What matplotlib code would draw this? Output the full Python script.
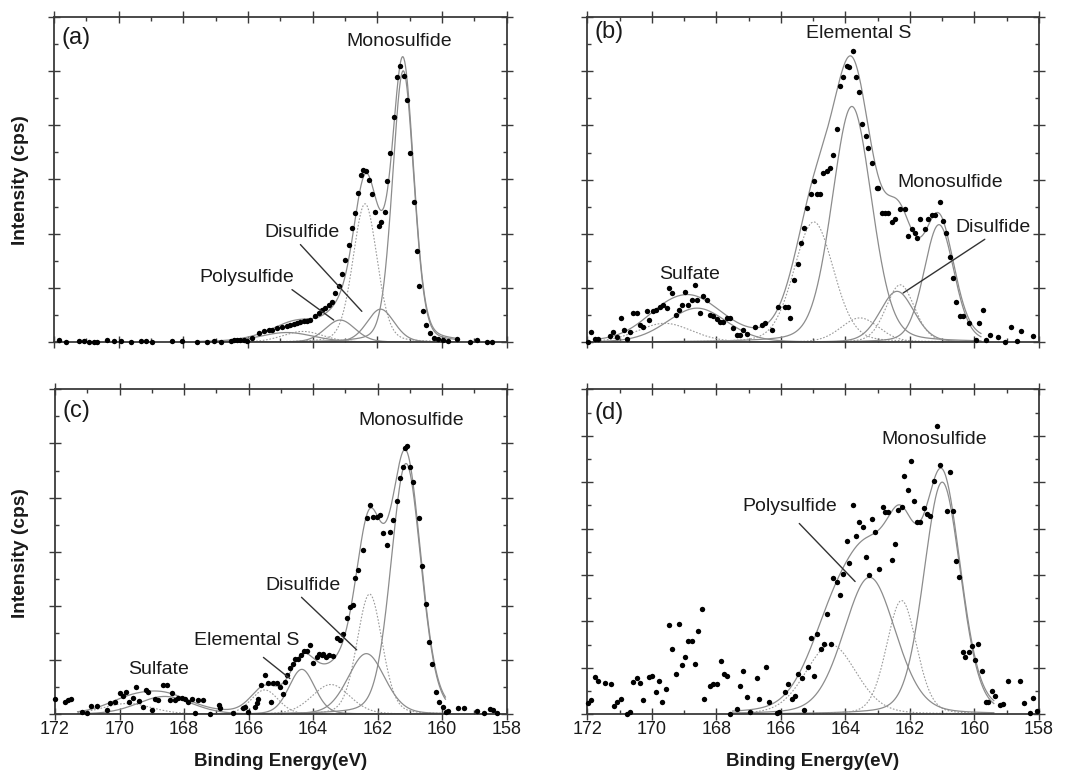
import numpy as np
import matplotlib
matplotlib.use("Agg")
import matplotlib.pyplot as plt
from matplotlib.ticker import MultipleLocator

plt.rcParams['font.family'] = ['Liberation Sans', 'DejaVu Sans']

# ---------------- data (binding energy in eV, intensity in arbitrary units) ----
a_be = [171.85, 171.64, 171.23, 171.07, 170.92, 170.76, 170.66, 170.35, 170.15, 169.94,
        169.63, 169.32, 169.17, 168.96, 168.35, 168.04, 167.57, 167.26, 167.06, 166.85,
        166.54, 166.44, 166.34, 166.24, 166.13, 166.03, 165.87, 165.67, 165.51, 165.36,
        165.26, 165.10, 164.95, 164.79, 164.69, 164.59, 164.49, 164.38, 164.28, 164.18,
        164.07, 163.92, 163.82, 163.71, 163.61, 163.51, 163.40, 163.30, 163.20, 163.10,
        162.99, 162.89, 162.79, 162.70, 162.61, 162.51, 162.43, 162.34, 162.27, 162.17,
        162.07, 161.96, 161.88, 161.76, 161.69, 161.60, 161.48, 161.40, 161.29, 161.19,
        161.09, 160.99, 160.88, 160.78, 160.70, 160.59, 160.49, 160.37, 160.26, 160.11,
        159.96, 159.80, 159.54, 159.13, 158.93, 158.62, 158.46]
a_int = [0.04, 0.01, 0.02, 0.02, 0.01, 0.01, 0.01, 0.04, 0.02, 0.03,
         0.01, 0.03, 0.02, 0.01, 0.02, 0.03, 0.01, 0.01, 0.02, 0.01,
         0.02, 0.05, 0.04, 0.05, 0.04, 0.03, 0.07, 0.17, 0.20, 0.23,
         0.22, 0.26, 0.29, 0.30, 0.32, 0.34, 0.35, 0.38, 0.40, 0.40,
         0.41, 0.49, 0.54, 0.60, 0.63, 0.69, 0.75, 0.91, 1.03, 1.25,
         1.52, 1.80, 2.11, 2.38, 2.75, 3.09, 3.18, 3.16, 2.98, 2.73,
         2.40, 2.15, 2.22, 2.40, 2.97, 3.48, 4.15, 4.89, 5.09, 4.91,
         4.46, 3.49, 2.59, 1.69, 1.03, 0.57, 0.32, 0.17, 0.07, 0.06,
         0.04, 0.03, 0.06, 0.01, 0.04, 0.01, 0.01]

b_be = [171.97, 171.87, 171.76, 171.66, 171.30, 171.19, 171.07, 170.97, 170.86, 170.78,
        170.68, 170.57, 170.47, 170.37, 170.26, 170.16, 170.08, 169.95, 169.87, 169.75,
        169.64, 169.54, 169.46, 169.36, 169.25, 169.15, 169.08, 168.97, 168.87, 168.77,
        168.66, 168.61, 168.51, 168.40, 168.30, 168.20, 168.10, 167.99, 167.89, 167.79,
        167.68, 167.58, 167.48, 167.37, 167.27, 167.17, 167.06, 166.80, 166.60, 166.49,
        166.29, 166.08, 165.87, 165.77, 165.72, 165.58, 165.46, 165.38, 165.29, 165.18,
        165.07, 164.98, 164.87, 164.79, 164.69, 164.58, 164.48, 164.38, 164.27, 164.17,
        164.07, 163.96, 163.88, 163.78, 163.67, 163.58, 163.48, 163.37, 163.29, 163.19,
        163.03, 162.98, 162.88, 162.77, 162.67, 162.57, 162.46, 162.31, 162.16, 162.05,
        161.95, 161.85, 161.79, 161.69, 161.54, 161.43, 161.33, 161.23, 161.07, 160.99,
        160.88, 160.76, 160.66, 160.57, 160.45, 160.35, 160.16, 159.95, 159.85, 159.75,
        159.64, 159.52, 159.26, 159.06, 158.88, 158.67, 158.57, 158.18]
b_int = [0.01, 0.19, 0.06, 0.06, 0.12, 0.19, 0.09, 0.44, 0.23, 0.06,
         0.19, 0.54, 0.54, 0.32, 0.29, 0.57, 0.41, 0.57, 0.60, 0.66,
         0.69, 0.63, 1.00, 0.91, 0.51, 0.60, 0.69, 0.92, 0.69, 0.78,
         1.06, 0.78, 0.54, 0.85, 0.78, 0.51, 0.48, 0.43, 0.38, 0.38,
         0.44, 0.44, 0.26, 0.14, 0.14, 0.23, 0.15, 0.28, 0.32, 0.35,
         0.23, 0.66, 0.66, 0.66, 0.44, 1.15, 1.44, 1.83, 2.11, 2.48,
         2.74, 2.97, 2.73, 2.73, 3.12, 3.16, 3.22, 3.45, 3.93, 4.72,
         4.89, 5.10, 5.07, 5.38, 4.90, 4.61, 4.02, 3.81, 3.59, 3.31,
         2.85, 2.85, 2.39, 2.39, 2.39, 2.21, 2.27, 2.46, 2.46, 1.96,
         2.09, 2.02, 1.93, 2.27, 2.09, 2.27, 2.34, 2.34, 2.58, 2.24,
         2.02, 1.58, 1.18, 0.75, 0.49, 0.49, 0.36, 0.04, 0.36, 0.60,
         0.04, 0.14, 0.10, 0.01, 0.28, 0.03, 0.21, 0.12]

c_be = [172.00, 171.69, 171.59, 171.49, 171.17, 171.00, 170.89, 170.71, 170.40, 170.30,
        170.14, 169.99, 169.90, 169.80, 169.70, 169.57, 169.49, 169.39, 169.28, 169.18,
        169.11, 169.00, 168.90, 168.80, 168.64, 168.54, 168.44, 168.38, 168.28, 168.18,
        168.07, 167.97, 167.87, 167.76, 167.66, 167.56, 167.42, 167.20, 166.91, 166.89,
        166.47, 166.16, 166.11, 166.01, 165.80, 165.75, 165.70, 165.60, 165.49, 165.39,
        165.32, 165.23, 165.13, 165.03, 164.94, 164.87, 164.82, 164.72, 164.63, 164.56,
        164.46, 164.36, 164.28, 164.18, 164.10, 163.99, 163.89, 163.81, 163.74, 163.68,
        163.60, 163.50, 163.39, 163.27, 163.17, 163.06, 162.96, 162.86, 162.76, 162.71,
        162.60, 162.44, 162.34, 162.24, 162.13, 162.03, 161.93, 161.82, 161.72, 161.62,
        161.51, 161.41, 161.31, 161.21, 161.15, 161.08, 161.00, 160.90, 160.71, 160.61,
        160.50, 160.40, 160.30, 160.19, 160.09, 159.96, 159.88, 159.81, 159.50, 159.31,
        158.93, 158.70, 158.52, 158.42, 158.29]
c_int = [0.28, 0.23, 0.26, 0.28, 0.05, 0.03, 0.15, 0.15, 0.08, 0.20,
         0.23, 0.39, 0.33, 0.42, 0.23, 0.31, 0.51, 0.25, 0.14, 0.45,
         0.42, 0.08, 0.29, 0.26, 0.54, 0.54, 0.26, 0.40, 0.26, 0.31,
         0.31, 0.29, 0.23, 0.29, 0.02, 0.26, 0.26, 0.00, 0.17, 0.11,
         0.03, 0.11, 0.14, 0.05, 0.14, 0.20, 0.29, 0.54, 0.72, 0.57,
         0.23, 0.57, 0.58, 0.51, 0.38, 0.60, 0.72, 0.85, 0.93, 1.03,
         1.03, 1.09, 1.16, 1.16, 1.28, 0.94, 1.06, 1.12, 1.09, 1.12,
         1.05, 1.09, 1.08, 1.40, 1.37, 1.49, 1.77, 1.99, 2.02, 2.51,
         2.66, 3.03, 3.62, 3.86, 3.65, 3.64, 3.68, 3.34, 3.13, 3.37,
         3.59, 3.93, 4.36, 4.57, 4.91, 4.95, 4.57, 4.29, 3.62, 2.74,
         2.04, 1.34, 0.93, 0.42, 0.23, 0.14, 0.05, 0.06, 0.11, 0.11,
         0.06, 0.03, 0.09, 0.08, 0.03]

d_be = [171.97, 171.87, 171.76, 171.66, 171.45, 171.28, 171.17, 171.07, 170.97, 170.78,
        170.68, 170.57, 170.47, 170.37, 170.26, 170.08, 169.98, 169.87, 169.77, 169.67,
        169.56, 169.46, 169.36, 169.25, 169.15, 169.08, 168.97, 168.87, 168.77, 168.66,
        168.56, 168.46, 168.38, 168.20, 168.10, 167.99, 167.87, 167.76, 167.66, 167.58,
        167.37, 167.27, 167.17, 167.06, 166.96, 166.75, 166.67, 166.46, 166.36, 166.13,
        166.05, 165.87, 165.77, 165.67, 165.56, 165.46, 165.36, 165.29, 165.15, 165.07,
        164.98, 164.87, 164.77, 164.67, 164.58, 164.46, 164.38, 164.27, 164.17, 164.07,
        163.96, 163.88, 163.78, 163.67, 163.57, 163.47, 163.36, 163.26, 163.19, 163.08,
        162.95, 162.85, 162.77, 162.67, 162.57, 162.46, 162.36, 162.26, 162.19, 162.05,
        161.97, 161.87, 161.79, 161.69, 161.57, 161.48, 161.38, 161.26, 161.17, 161.07,
        160.86, 160.76, 160.68, 160.57, 160.47, 160.37, 160.30, 160.16, 160.09, 159.99,
        159.88, 159.78, 159.64, 159.57, 159.46, 159.36, 159.21, 159.11, 158.95, 158.59,
        158.47, 158.28, 158.18, 158.07]
d_int = [0.25, 0.31, 0.80, 0.72, 0.68, 0.65, 0.17, 0.27, 0.33, 0.01,
         0.04, 0.69, 0.78, 0.68, 0.30, 0.81, 0.83, 0.48, 0.72, 0.27,
         0.54, 1.92, 1.41, 0.87, 1.95, 1.06, 1.24, 1.58, 1.58, 1.08,
         1.80, 2.26, 0.34, 0.60, 0.65, 0.65, 1.14, 0.86, 0.83, 0.00,
         0.11, 0.60, 0.94, 0.38, 0.06, 0.79, 0.33, 1.01, 0.26, 0.02,
         0.04, 0.47, 0.65, 0.33, 0.40, 0.87, 0.79, 0.09, 1.01, 1.64,
         0.83, 1.72, 1.40, 1.51, 2.17, 1.52, 2.93, 2.84, 2.58, 3.02,
         3.74, 3.25, 4.51, 3.85, 4.15, 4.03, 3.39, 3.00, 4.20, 3.93,
         3.12, 4.46, 4.36, 4.36, 3.32, 3.66, 4.39, 4.47, 5.13, 4.83,
         5.46, 4.60, 4.15, 4.15, 4.44, 4.32, 4.28, 5.03, 6.21, 5.38,
         4.38, 5.21, 4.38, 3.31, 2.96, 1.35, 1.24, 1.35, 1.48, 1.18,
         1.52, 0.94, 0.26, 0.27, 0.50, 0.40, 0.20, 0.22, 0.72, 0.72,
         0.25, 0.02, 0.35, 0.08]

# fitted component peaks: centre (eV), height, FWHM (eV); doublet partner flag
a_centers = [161.20, 162.38, 161.90, 163.15, 164.30, 164.80]
a_heights = [5.00, 2.55, 0.61, 0.41, 0.20, 0.18]
a_fwhm = [0.78, 0.88, 1.00, 1.10, 1.50, 2.00]
a_dotted = [False, True, False, False, True, False]

b_centers = [163.80, 164.98, 163.55, 162.40, 162.30, 161.10, 168.60, 169.60]
b_heights = [4.35, 2.22, 0.45, 0.94, 1.06, 2.17, 0.63, 0.35]
b_fwhm = [1.45, 1.45, 1.40, 1.25, 1.05, 1.10, 2.20, 2.00]
b_dotted = [False, True, True, False, True, False, False, True]

c_centers = [161.12, 162.25, 162.35, 163.45, 164.35, 165.50, 168.60, 169.75]
c_heights = [4.63, 2.22, 1.12, 0.55, 0.83, 0.45, 0.33, 0.20]
c_fwhm = [1.10, 0.92, 1.35, 1.40, 0.95, 1.00, 2.00, 1.80]
c_dotted = [False, True, False, True, False, True, False, True]

d_centers = [161.00, 162.26, 163.25, 164.45]
d_heights = [5.00, 2.45, 2.95, 1.50]
d_fwhm = [1.35, 1.10, 1.90, 1.85]
d_dotted = [False, True, False, True]

panel_tags = ['(a)', '(b)', '(c)', '(d)']
x_ticks = [172, 170, 168, 166, 164, 162, 160, 158]

# ---------------- drawing -----------------------------------------------------
W, H = 1070, 772
fig = plt.figure(figsize=(W / 100, H / 100), dpi=100)


def make_ax(l, t, r, b):
    return fig.add_axes([l / W, 1 - b / H, (r - l) / W, (b - t) / H])


ax_a = make_ax(54, 16.5, 506.7, 342.3)
ax_b = make_ax(587.3, 17, 1039, 342.3)
ax_c = make_ax(55, 389.3, 506.7, 714.3)
ax_d = make_ax(587.3, 389.3, 1039, 714.3)

frame_col = '#3a3a3a'
fit_col = '#8c8c8c'


def pvoigt(x, c, h, w, eta=0.2):
    s = w / 2.3548
    g = np.exp(-(x - c) ** 2 / (2 * s * s))
    lo = 1.0 / (1.0 + ((x - c) / (w / 2)) ** 2)
    return h * ((1 - eta) * g + eta * lo)


def style_ax(ax, ymax, show_xlabels):
    ax.set_xlim(172, 158)
    ax.set_ylim(0, ymax)
    ax.xaxis.set_major_locator(MultipleLocator(2))
    ax.xaxis.set_minor_locator(MultipleLocator(1))
    ax.yaxis.set_major_locator(MultipleLocator(1))
    ax.yaxis.set_minor_locator(MultipleLocator(0.5))
    ax.tick_params(which='major', direction='inout', length=8, width=1.0,
                   color=frame_col, top=True, right=True, bottom=True, left=True,
                   labelleft=False, labelbottom=show_xlabels, labelsize=13, pad=1,
                   labelcolor='#1a1a1a')
    ax.tick_params(which='minor', direction='in', length=3, width=1.0,
                   color=frame_col, top=True, right=True, bottom=True, left=True)
    if show_xlabels:
        ax.set_xticks(x_ticks)
        ax.set_xticklabels([str(v) for v in x_ticks])
    for sp in ax.spines.values():
        sp.set_color(frame_col)
        sp.set_linewidth(1.3)


def draw_panel(ax, be, inten, centers, heights, fwhm, dotted, xr):
    x = np.linspace(xr[0], xr[1], 800)
    total = np.zeros_like(x)
    for c, h, w, dot in zip(centers, heights, fwhm, dotted):
        y = pvoigt(x, c, h, w)
        total += y
        if dot:
            ax.plot(x, y, color='#9a9a9a', lw=0.8, ls=(0, (1.5, 1.5)), zorder=2)
        else:
            ax.plot(x, y, color=fit_col, lw=0.9, zorder=2)
    ax.plot(x, total, color=fit_col, lw=0.9, zorder=2)
    ax.scatter(be, inten, s=15, color='black', zorder=3, clip_on=False, linewidths=0)


draw_panel(ax_a, a_be, a_int, a_centers, a_heights, a_fwhm, a_dotted, (167.5, 159.6))
draw_panel(ax_b, b_be, b_int, b_centers, b_heights, b_fwhm, b_dotted, (171.6, 159.8))
draw_panel(ax_c, c_be, c_int, c_centers, c_heights, c_fwhm, c_dotted, (171.3, 159.9))
draw_panel(ax_d, d_be, d_int, d_centers, d_heights, d_fwhm, d_dotted, (167.5, 159.4))

style_ax(ax_a, 6, False)
style_ax(ax_b, 6, False)
style_ax(ax_c, 6, True)
style_ax(ax_d, 7, True)

fs = 14
lab_col = '#1a1a1a'
line_kw = dict(arrowstyle='-', color='#333333', lw=1.0, shrinkA=0, shrinkB=0)

for ax, tag, ty in zip([ax_a, ax_b, ax_c, ax_d], panel_tags, [5.6, 5.72, 5.6, 6.48]):
    ax.text(171.78, ty, tag, fontsize=17, ha='left', va='center', color=lab_col)

# (a)
ax_a.text(161.34, 5.54, 'Monosulfide', fontsize=fs, ha='center', va='center', color=lab_col)
ax_a.text(164.33, 2.02, 'Disulfide', fontsize=fs, ha='center', va='center', color=lab_col)
ax_a.annotate('', xy=(162.48, 0.57), xytext=(164.38, 1.80), arrowprops=line_kw)
ax_a.text(166.03, 1.19, 'Polysulfide', fontsize=fs, ha='center', va='center', color=lab_col)
ax_a.annotate('', xy=(163.35, 0.41), xytext=(164.64, 0.97), arrowprops=line_kw)

# (b)
ax_b.text(163.60, 5.69, 'Elemental S', fontsize=fs, ha='center', va='center', color=lab_col)
ax_b.text(160.76, 2.94, 'Monosulfide', fontsize=fs, ha='center', va='center', color=lab_col)
ax_b.text(159.42, 2.11, 'Disulfide', fontsize=fs, ha='center', va='center', color=lab_col)
ax_b.annotate('', xy=(162.21, 0.91), xytext=(159.68, 1.90), arrowprops=line_kw)
ax_b.text(168.82, 1.25, 'Sulfate', fontsize=fs, ha='center', va='center', color=lab_col)

# (c)
ax_c.text(160.95, 5.43, 'Monosulfide', fontsize=fs, ha='center', va='center', color=lab_col)
ax_c.text(164.30, 2.37, 'Disulfide', fontsize=fs, ha='center', va='center', color=lab_col)
ax_c.annotate('', xy=(162.65, 1.19), xytext=(164.36, 2.16), arrowprops=line_kw)
ax_c.text(166.06, 1.37, 'Elemental S', fontsize=fs, ha='center', va='center', color=lab_col)
ax_c.annotate('', xy=(164.72, 0.66), xytext=(165.54, 1.05), arrowprops=line_kw)
ax_c.text(168.80, 0.83, 'Sulfate', fontsize=fs, ha='center', va='center', color=lab_col)

# (d)
ax_d.text(161.26, 5.91, 'Monosulfide', fontsize=fs, ha='center', va='center', color=lab_col)
ax_d.text(165.74, 4.47, 'Polysulfide', fontsize=fs, ha='center', va='center', color=lab_col)
ax_d.annotate('', xy=(163.70, 2.86), xytext=(165.43, 4.11), arrowprops=line_kw)

# axis titles
fig.text(21 / W, 1 - 180 / H, 'Intensity (cps)', rotation=90, fontsize=13.8,
         fontweight='bold', ha='center', va='center', color=lab_col)
fig.text(21 / W, 1 - 553 / H, 'Intensity (cps)', rotation=90, fontsize=13.8,
         fontweight='bold', ha='center', va='center', color=lab_col)
fig.text(281 / W, 1 - 762 / H, 'Binding Energy(eV)', fontsize=13.5,
         fontweight='bold', ha='center', va='center', color=lab_col)
fig.text(813 / W, 1 - 762 / H, 'Binding Energy(eV)', fontsize=13.5,
         fontweight='bold', ha='center', va='center', color=lab_col)

fig.savefig('out.png', dpi=100)
